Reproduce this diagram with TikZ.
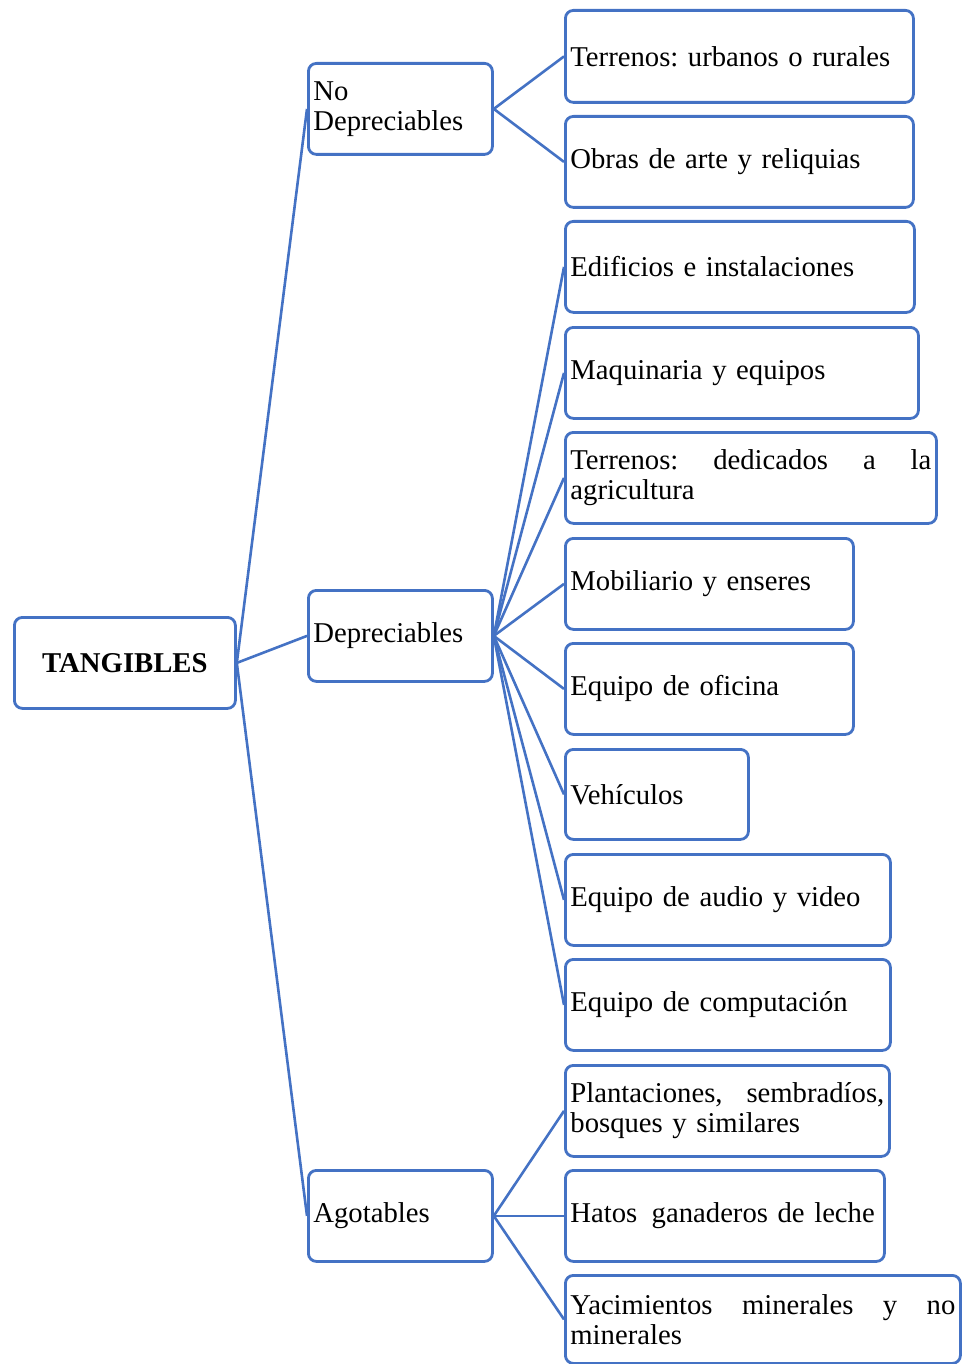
\documentclass[tikz,border=0pt]{standalone}
\usepackage{fontspec}
\setmainfont{Liberation Serif}
\frenchspacing
\definecolor{boxblue}{RGB}{68,114,196}
\tikzset{
  box/.style={draw=boxblue, line width=2.8pt, rounded corners=8pt, anchor=north west,
    inner xsep=5pt, inner ysep=0pt, align=left, font=\fontsize{28.7}{30}\selectfont\frenchspacing, text=black},
  conn/.style={draw=boxblue, line width=2.6pt}
}
\newcommand{\bx}[6]{% name, x, y, w, h, text
  \node[box, text width=#4pt-10pt, minimum height=#5pt] (#1) at (#2,#3) {#6};}
\begin{document}
\begin{tikzpicture}[x=1pt,y=-1pt]
\useasboundingbox (0,0) rectangle (962,1364);
% root
\node[box, text width=211pt, minimum height=91pt, align=center, font=\fontsize{28.7}{30}\selectfont\bfseries] (tang) at (13,616) {TANGIBLES};
% mid level
\bx{nodep}{307}{62}{184}{91}{No\\Depreciables}
\bx{dep}{307}{589}{184}{91}{Depreciables}
\bx{ago}{307}{1169}{184}{91}{Agotables}
% leaves
\bx{l1}{564}{9}{348}{92}{Terrenos: urbanos o rurales}
\bx{l2}{564}{115}{348}{91}{Obras de arte y reliquias}
\bx{l3}{564}{220}{349}{91}{Edificios e instalaciones}
\bx{l4}{564}{326}{353}{91}{Maquinaria y equipos}
\bx{l5}{564}{431}{371}{91}{Terrenos:\hfill dedicados\hfill a\hfill la\\agricultura}
\bx{l6}{564}{537}{288}{91}{Mobiliario y enseres}
\bx{l7}{564}{642}{288}{91}{Equipo de oficina}
\bx{l8}{564}{748}{183}{90}{Vehículos}
\bx{l9}{564}{853}{325}{91}{Equipo de audio y video}
\bx{l10}{564}{958}{325}{91}{Equipo de computación}
\bx{l11}{564}{1064}{324}{91}{Plantaciones,\hfill sembradíos,\\bosques y similares}
\bx{l12}{564}{1169}{319}{91}{Hatos\hspace{0.5em}ganaderos de leche}
\bx{l13}{564}{1274}{395}{88}{Yacimientos\hfill minerales\hfill y\hfill no\\minerales}
% connectors
\foreach \m in {nodep,dep,ago} \draw[conn] (tang.east) -- (\m.west);
\foreach \l in {l1,l2} \draw[conn] (nodep.east) -- (\l.west);
\foreach \l in {l3,l4,l5,l6,l7,l8,l9,l10} \draw[conn] (dep.east) -- (\l.west);
\foreach \l in {l11,l12,l13} \draw[conn] (ago.east) -- (\l.west);
\end{tikzpicture}
\end{document}
